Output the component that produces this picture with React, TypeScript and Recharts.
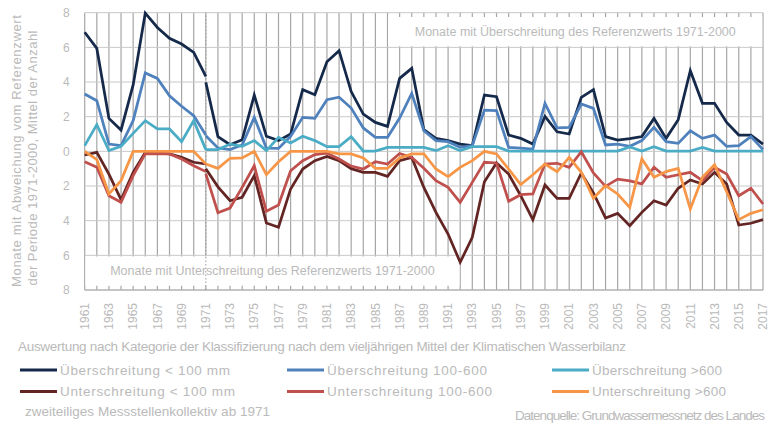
import React from 'react';
import { LineChart, Line, XAxis, YAxis, CartesianGrid, ReferenceArea, ReferenceLine } from 'recharts';

const years = [1961, 1962, 1963, 1964, 1965, 1966, 1967, 1968, 1969, 1970, 1971, 1972, 1973, 1974, 1975, 1976, 1977, 1978, 1979, 1980, 1981, 1982, 1983, 1984, 1985, 1986, 1987, 1988, 1989, 1990, 1991, 1992, 1993, 1994, 1995, 1996, 1997, 1998, 1999, 2000, 2001, 2002, 2003, 2004, 2005, 2006, 2007, 2008, 2009, 2010, 2011, 2012, 2013, 2014, 2015, 2016, 2017];
const oldYears = [1961, 1962, 1963, 1964, 1965, 1966, 1967, 1968, 1969, 1970, 1971];
const newYears = years.slice(10);
const yTicks = [-8, -6, -4, -2, 0, 2, 4, 6, 8];

// Kollektiv bis 1971
const uebKleinAlt = [6.87, 5.94, 1.9, 1.23, 3.83, 7.98, 7.15, 6.52, 6.19, 5.71, 4.33];
const uebMittelAlt = [3.31, 2.92, 0.42, 0.33, 1.77, 4.52, 4.21, 3.21, 2.6, 2.06, 0.94];
const uebGrossAlt = [0.33, 1.54, 0.04, 0.29, 1.04, 1.77, 1.29, 1.29, 0.56, 1.77, 0.1];
const untKleinAlt = [-0.21, -0.06, -1.31, -2.79, -1.21, -0.06, -0.1, -0.15, -0.35, -0.63, -0.73];
const untMittelAlt = [-0.6, -0.92, -2.56, -2.94, -1.4, -0.15, -0.15, -0.15, -0.44, -0.83, -1.17];
const untGrossAlt = [0, -0.48, -2.46, -1.69, 0, 0, 0, 0, 0, 0, -0.73];

// Kollektiv ab 1971
const uebKleinNeu = [3.98, 0.85, 0.38, 0.67, 3.25, 0.87, 0.62, 1.0, 3.56, 3.27, 5.17, 5.81, 3.45, 2.15, 1.67, 1.44, 4.21, 4.79, 1.25, 0.75, 0.62, 0.42, 0.33, 3.25, 3.15, 0.94, 0.75, 0.42, 2.02, 1.13, 1.0, 3.12, 3.56, 0.85, 0.65, 0.73, 0.85, 1.9, 0.75, 1.83, 4.65, 2.77, 2.77, 1.67, 0.94, 0.94, 0.42];
const uebMittelNeu = [0.9, 0.2, 0.1, 0.37, 1.96, 0.19, 0.17, 0.87, 1.96, 1.9, 2.98, 3.12, 2.5, 1.35, 0.81, 0.81, 1.92, 3.35, 1.19, 0.62, 0.56, 0.23, 0.33, 2.38, 2.35, 0.23, 0.19, 0.13, 2.77, 1.35, 1.38, 2.73, 2.48, 0.37, 0.42, 0.29, 0.62, 1.38, 0.56, 0.46, 1.19, 0.75, 0.94, 0.29, 0.33, 0.85, 0.1];
const uebGrossNeu = [0.1, 0.1, 0.42, 0.29, 0.62, 0.04, 0.81, 0.48, 0.87, 0.62, 0.27, 0.27, 0.85, 0.02, 0.02, 0.23, 0.23, 0.23, 0.23, 0.04, 0.33, 0.04, 0.27, 0.27, 0.27, 0.02, 0.02, 0.02, 0.02, 0.02, 0.02, 0.02, 0.02, 0.02, 0.02, 0.25, 0.02, 0.27, 0.02, 0.02, 0.02, 0.23, 0.02, 0.02, 0.02, 0.02, 0.02];
const untKleinNeu = [-1.0, -2.05, -2.85, -2.65, -1.4, -4.13, -4.38, -2.17, -1.02, -0.54, -0.29, -0.54, -1.0, -1.21, -1.21, -1.44, -0.54, -0.35, -2.08, -3.52, -4.77, -6.4, -4.96, -1.75, -0.67, -1.31, -2.56, -3.94, -1.94, -2.71, -2.71, -1.25, -2.4, -3.85, -3.58, -4.29, -3.52, -2.85, -3.1, -2.13, -1.65, -1.88, -1.21, -1.88, -4.25, -4.15, -3.94];
const untMittelNeu = [-1.3, -3.54, -3.27, -2.08, -0.83, -3.46, -3.1, -1.12, -0.54, -0.19, -0.1, -0.44, -0.85, -1.02, -0.6, -0.73, -0.12, -0.35, -0.98, -1.69, -2.08, -2.94, -1.79, -0.63, -0.67, -2.88, -2.5, -2.46, -0.73, -0.69, -0.92, -0.02, -1.25, -2.02, -1.6, -1.7, -1.88, -0.92, -1.5, -1.35, -1.21, -1.69, -0.92, -1.31, -2.56, -2.13, -3.04];
const untGrossNeu = [-0.73, -0.98, -0.4, -0.38, 0, -1.35, -0.6, 0, 0, 0, 0, -0.15, -0.15, -0.38, -0.98, -0.98, -0.38, -0.15, -0.15, -1.02, -1.46, -0.92, -0.54, 0, -0.15, -1.02, -1.92, -1.35, -0.73, -1.17, -0.35, -1.21, -2.71, -1.98, -2.46, -3.23, -0.44, -1.5, -1.17, -0.98, -3.33, -1.5, -0.77, -2.33, -3.94, -3.58, -3.37];

const seriesNames = ['Überschreitung < 100 mm', 'Überschreitung 100-600', 'Überschreitung >600', 'Unterschreitung < 100 mm', 'Unterschreitung 100-600', 'Unterschreitung >600'];
const seriesKeys = ['uebKlein', 'uebMittel', 'uebGross', 'untKlein', 'untMittel', 'untGross'];
const seriesColors = ['#15294a', '#4f81bd', '#4bacc6', '#632523', '#c0504d', '#f79646'];
const oldValues = [uebKleinAlt, uebMittelAlt, uebGrossAlt, untKleinAlt, untMittelAlt, untGrossAlt];
const newValues = [uebKleinNeu, uebMittelNeu, uebGrossNeu, untKleinNeu, untMittelNeu, untGrossNeu];

const data = years.map((year) => {
  const row: Record<string, number> = { year };
  seriesKeys.forEach((k, s) => {
    const oi = oldYears.indexOf(year);
    if (oi >= 0) row[k + 'Alt'] = oldValues[s][oi];
    const ni = newYears.indexOf(year);
    if (ni >= 0) row[k + 'Neu'] = newValues[s][ni];
  });
  return row;
});

const TXT = '#bababa';
const FONT = '"Liberation Sans", Arial, sans-serif';

const legendWidths = [170, 160, 130, 175, 165, 134];

const XTick = (props: any) => {
  const { x, y, payload } = props;
  if (payload.value % 2 === 0) return <g />;
  const ty = y + 13;
  return (
    <text x={x} y={ty} transform={`rotate(-90 ${x} ${ty})`} textAnchor="end" dy="0.35em" fill={TXT} fontSize={12} fontFamily={FONT}>
      {payload.value}
    </text>
  );
};

export default function App() {
  return (
    <div style={{ position: 'absolute', left: 0, top: 0, width: 769, height: 425, background: '#fff', fontFamily: FONT }}>
      <LineChart width={769} height={425} data={data} margin={{ top: 12.7, right: 6, bottom: 95, left: 0 }}>
        <CartesianGrid horizontal={false} vertical={true} stroke="#a6a6a6" strokeWidth={1.2} />
        <CartesianGrid horizontal={true} vertical={false} stroke="#c8c8c8" strokeWidth={1} />
        <XAxis
          type="number"
          dataKey="year"
          domain={[1961, 2017]}
          ticks={years}
          interval={0}
          height={40}
          tickSize={0}
          tickMargin={0}
          tick={<XTick />}
          axisLine={{ stroke: '#a6a6a6' }}
          tickLine={false}
        />
        <YAxis
          type="number"
          domain={[-8, 8]}
          ticks={yTicks}
          width={84.7}
          tickSize={0}
          tickMargin={15}
          axisLine={false}
          tickLine={false}
          tickFormatter={(v: number) => String(Math.abs(v))}
          tick={{ fill: TXT, fontSize: 12, fontFamily: FONT }}
        />
        <ReferenceArea
          x1={1986.06}
          x2={2016.94}
          y1={6.06}
          y2={7.75}
          fill="#ffffff"
          fillOpacity={1}
          stroke="none"
          label={{ value: 'Monate mit Überschreitung des Referenzwerts 1971-2000', position: 'center', fill: TXT, fontSize: 12.5, fontFamily: FONT }}
        />
        <ReferenceArea
          x1={1961.06}
          x2={1991.94}
          y1={-7.75}
          y2={-6.06}
          fill="#ffffff"
          fillOpacity={1}
          stroke="none"
          label={{ value: 'Monate mit Unterschreitung des Referenzwerts 1971-2000', position: 'center', fill: TXT, fontSize: 12.5, fontFamily: FONT }}
        />
        <ReferenceLine x={1971} stroke="#9a9a9a" strokeDasharray="1.5 2" strokeWidth={1} />
        {seriesKeys.map((k, s) => (
          <Line key={k + 'Alt'} type="linear" dataKey={k + 'Alt'} stroke={seriesColors[s]} strokeWidth={2.75} dot={false} isAnimationActive={false} connectNulls={false} legendType="none" />
        ))}
        {seriesKeys.map((k, s) => (
          <Line key={k + 'Neu'} type="linear" dataKey={k + 'Neu'} name={seriesNames[s]} stroke={seriesColors[s]} strokeWidth={2.75} dot={false} isAnimationActive={false} connectNulls={false} />
        ))}
      </LineChart>
      <svg width={769} height={425} style={{ position: 'absolute', left: 0, top: 0, pointerEvents: 'none' }}>
        <g fontFamily={FONT} fill={TXT} fontSize={13.5}>
          <text x={16} y={151} transform="rotate(-90 16 151)" textAnchor="middle" dy="0.35em" fontSize={13} textLength={272} lengthAdjust="spacing">Monate mit Abweichung vom Referenzwert</text>
          <text x={32} y={158} transform="rotate(-90 32 158)" textAnchor="middle" dy="0.35em" fontSize={13} textLength={255} lengthAdjust="spacing">der Periode 1971-2000, Mittel der Anzahl</text>
          <text x={18} y={351} textLength={608} lengthAdjust="spacing">Auswertung nach Kategorie der Klassifizierung nach dem vieljährigen Mittel der Klimatischen Wasserbilanz</text>
          {seriesNames.map((n, s) => {
            const col = s % 3;
            const row = Math.floor(s / 3);
            const lx = [20, 287, 552][col];
            const ly = [370, 391.5][row];
            return (
              <g key={n}>
                <rect x={lx} y={ly - 1.5} width={37} height={3} fill={seriesColors[s]} />
                <text x={lx + 40} y={ly + 4.5} textLength={legendWidths[s]} lengthAdjust="spacing">{n}</text>
              </g>
            );
          })}
          <text x={25} y={416} textLength={245} lengthAdjust="spacing">zweiteiliges Messstellenkollektiv ab 1971</text>
          <text x={515} y={420} textLength={250} lengthAdjust="spacing">Datenquelle: Grundwassermessnetz des Landes</text>
        </g>
      </svg>
    </div>
  );
}
